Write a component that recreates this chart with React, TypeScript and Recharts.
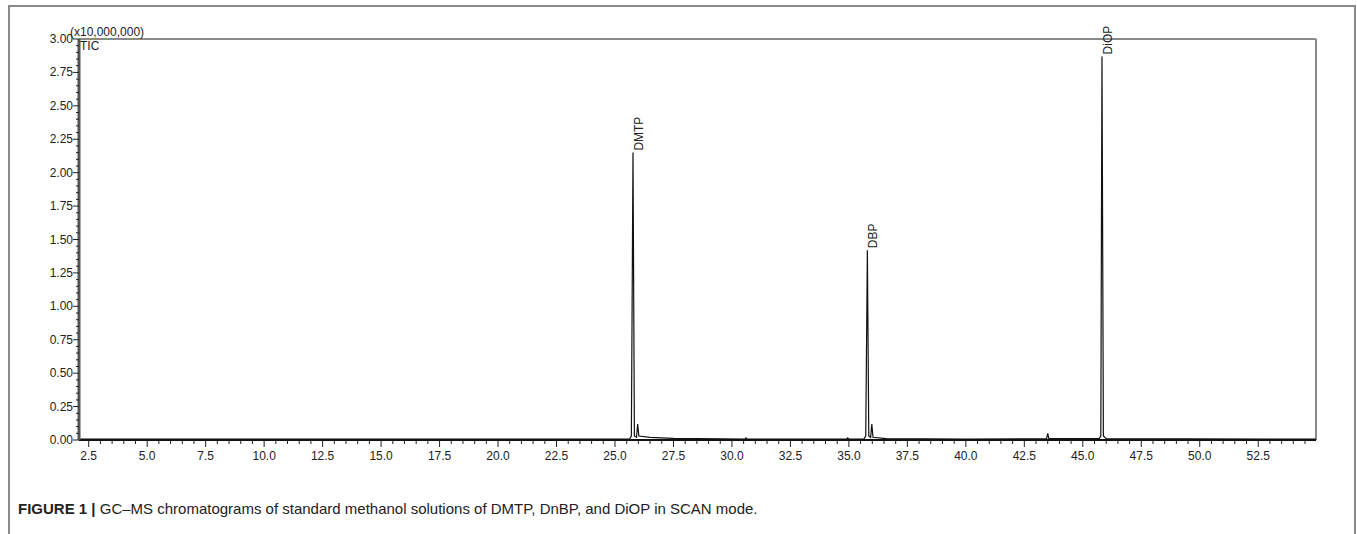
import React from "react";
import { LineChart, Line, XAxis, YAxis, ReferenceLine, LabelList } from "recharts";

// retention time (min) and TIC intensity (x10,000,000)
const retentionTimes = [
  2.085, 2.45, 10.0, 20.0, 25.62, 25.7, 25.77, 25.83, 25.92, 25.97, 26.02, 26.5,
  27.5, 30.55, 30.6, 30.65, 34.9, 34.95, 35.0, 35.64, 35.72, 35.79, 35.85, 35.93,
  35.98, 36.03, 36.6, 40.0, 43.45, 43.5, 43.55, 45.7, 45.77, 45.82, 45.88, 46.0, 54.97,
];
const intensities = [
  0.006, 0.006, 0.006, 0.006, 0.006, 0.03, 2.15, 0.03, 0.02, 0.12, 0.03, 0.02,
  0.012, 0.007, 0.016, 0.007, 0.007, 0.016, 0.007, 0.007, 0.03, 1.42, 0.03, 0.02,
  0.12, 0.02, 0.01, 0.007, 0.009, 0.05, 0.01, 0.01, 0.03, 2.87, 0.03, 0.01, 0.006,
];
const peakTimes = [25.77, 35.79, 45.82];
const peakNames = ["DMTP", "DBP", "DiOP"];

const xMajorTicks = [2.5, 5, 7.5, 10, 12.5, 15, 17.5, 20, 22.5, 25, 27.5, 30, 32.5, 35, 37.5, 40, 42.5, 45, 47.5, 50, 52.5];
const yMajorTicks = [0, 0.25, 0.5, 0.75, 1, 1.25, 1.5, 1.75, 2, 2.25, 2.5, 2.75, 3];
const X_MINOR_STEP = 0.5;
const Y_MINOR_STEP = 0.05;

const xTicks: number[] = [];
for (let i = 0; 2.5 + i * X_MINOR_STEP <= 54.6; i++) xTicks.push(+(2.5 + i * X_MINOR_STEP).toFixed(2));
const yTicks: number[] = [];
for (let i = 0; i * Y_MINOR_STEP <= 3.0001; i++) yTicks.push(+(i * Y_MINOR_STEP).toFixed(2));

const data = retentionTimes.map((rt, i) => {
  const k = peakTimes.indexOf(rt);
  return { rt, tic: intensities[i], peak: k >= 0 ? peakNames[k] : "" };
});

const FONT = "'Liberation Sans', Arial, sans-serif";

const isMajor = (v: number, list: number[]) => list.some((m) => Math.abs(m - v) < 1e-6);

const XTick = (props: any) => {
  const { x, y, payload } = props;
  const major = isMajor(payload.value, xMajorTicks);
  return (
    <g>
      <line x1={x} x2={x} y1={y} y2={y + (major ? 7 : 4)} stroke="#222" strokeWidth={1} />
      {major && (
        <text x={x} y={y + 20} textAnchor="middle" fontSize={12} fill="#222" fontFamily={FONT}>
          {payload.value.toFixed(1)}
        </text>
      )}
    </g>
  );
};

const YTick = (props: any) => {
  const { x, y, payload } = props;
  const major = isMajor(payload.value, yMajorTicks);
  return (
    <g>
      <line x1={x} x2={x - (major ? 6 : 3)} y1={y} y2={y} stroke="#222" strokeWidth={1} />
      {major && (
        <text x={x - 6} y={y + 4} textAnchor="end" fontSize={12} fill="#222" fontFamily={FONT}>
          {payload.value.toFixed(2)}
        </text>
      )}
    </g>
  );
};

const PeakLabel = (props: any) => {
  const { x, y, value } = props;
  if (!value) return null;
  return (
    <text
      x={x + 10}
      y={y - 2}
      transform={`rotate(-90 ${x + 10} ${y - 2})`}
      fontSize={12}
      fill="#222"
      fontFamily={FONT}
      textAnchor="start"
    >
      {value}
    </text>
  );
};

export default function App() {
  return (
    <div style={{ position: "absolute", left: 0, top: 0, width: 1357, height: 534, overflow: "hidden", background: "#fff" }}>
      <div style={{ position: "absolute", left: 8, top: 5, width: 1344, height: 560, border: "2px solid #8a8a8a" }} />
      <div style={{ position: "absolute", left: 0, top: 0 }}>
        <LineChart width={1357} height={534} data={data} margin={{ top: 39, right: 41, bottom: 0, left: 0 }}>
          <XAxis
            dataKey="rt"
            type="number"
            domain={[2.085, 54.97]}
            ticks={xTicks}
            interval={0}
            tickSize={0}
            tickMargin={0}
            height={94}
            tick={XTick}
            axisLine={{ stroke: "#111", strokeWidth: 2 }}
            allowDataOverflow
          />
          <YAxis
            type="number"
            domain={[0, 3]}
            ticks={yTicks}
            interval={0}
            tickSize={0}
            tickMargin={0}
            width={79}
            tick={YTick}
            axisLine={{ stroke: "#555", strokeWidth: 3 }}
            allowDataOverflow
          />
          <ReferenceLine y={3} stroke="#8a8a8a" strokeWidth={2} />
          <ReferenceLine x={54.97} stroke="#8a8a8a" strokeWidth={2} />
          <Line
            type="linear"
            dataKey="tic"
            stroke="#111"
            strokeWidth={1.2}
            dot={false}
            isAnimationActive={false}
          >
            <LabelList dataKey="peak" content={PeakLabel} />
          </Line>
        </LineChart>
      </div>
      <div style={{ position: "absolute", left: 70, top: 25, fontSize: 12, fontFamily: FONT, color: "#222" }}>
        (x10,000,000)
      </div>
      <div style={{ position: "absolute", left: 80, top: 39, fontSize: 12, fontFamily: FONT, color: "#222" }}>TIC</div>
      <div
        style={{
          position: "absolute",
          left: 18,
          top: 500,
          fontSize: 15,
          fontFamily: "'Liberation Sans Narrow', 'Liberation Sans', Arial, sans-serif",
          color: "#222",
          whiteSpace: "nowrap",
        }}
      >
        <b>FIGURE 1 |</b> GC–MS chromatograms of standard methanol solutions of DMTP, DnBP, and DiOP in SCAN mode.
      </div>
    </div>
  );
}
